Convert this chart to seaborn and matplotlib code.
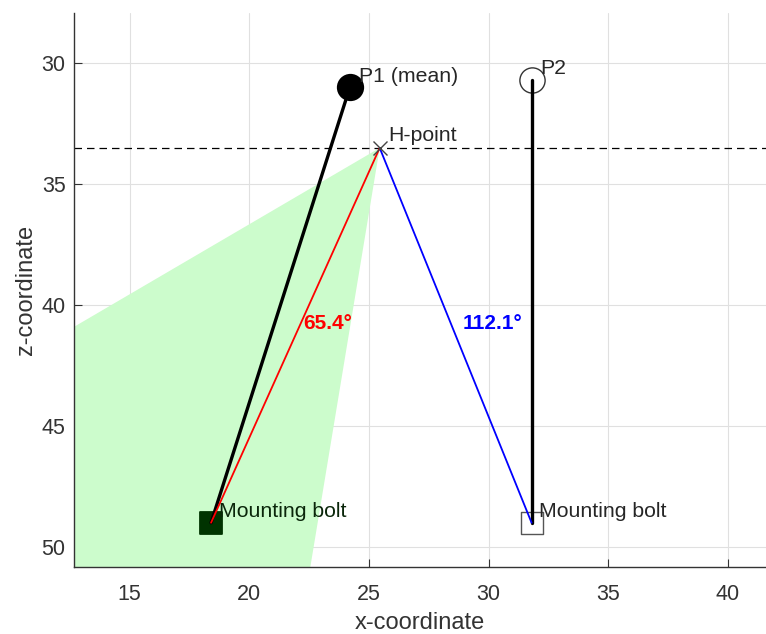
import matplotlib
matplotlib.use("Agg")
import matplotlib.pyplot as plt
import seaborn as sns
import pandas as pd

# ---- data ----
hpoint = (25.45, 33.5)
p1 = (24.2, 31.0)
p2 = (31.8, 30.7)
bolt1 = (18.4, 49.0)
bolt2 = (31.8, 49.0)
angle1 = "65.4°"
angle2 = "112.1°"
wedge_left = (12.67, 40.9)
wedge_bottom = (22.55, 50.83)
xlim = (12.67, 41.6)
ylim = (50.83, 27.92)
xticks = [15, 20, 25, 30, 35, 40]
yticks = [30, 35, 40, 45, 50]

sns.set_style("white")
plt.rcParams['font.family'] = ['Liberation Sans', 'DejaVu Sans']

fig = plt.figure(figsize=(7.66, 6.34), dpi=100)
ax = fig.add_axes([0.0966, 0.1057, 0.9034, 0.8738])

# green wedge (feasible region), extended beyond axes and clipped
def extend(a, b, f=3.0):
    return (a[0] + (b[0] - a[0]) * f, a[1] + (b[1] - a[1]) * f)
wl = extend(hpoint, wedge_left)
wb = extend(hpoint, wedge_bottom)
ax.fill([hpoint[0], wl[0], wl[0], wb[0]], [hpoint[1], wl[1], wb[1], wb[1]],
        color='#ccfccc', lw=0, zorder=1)

# dashed horizontal reference through H-point
ax.axhline(hpoint[1], color='black', ls=(0, (6, 4)), lw=0.9, zorder=2)

seg = pd.DataFrame({
    'x': [hpoint[0], bolt1[0], hpoint[0], bolt2[0], p1[0], bolt1[0], p2[0], bolt2[0]],
    'z': [hpoint[1], bolt1[1], hpoint[1], bolt2[1], p1[1], bolt1[1], p2[1], bolt2[1]],
    'seg': ['red', 'red', 'blue', 'blue', 'p1', 'p1', 'p2', 'p2'],
})

# markers for bolts
sns.scatterplot(x=[bolt1[0]], y=[bolt1[1]], marker='s', s=260, color='#003300',
                edgecolor='#003300', ax=ax, zorder=3)
sns.scatterplot(x=[bolt2[0]], y=[bolt2[1]], marker='s', s=260, color='white',
                edgecolor='#555555', linewidth=1.0, ax=ax, zorder=3)

sns.lineplot(data=seg[seg.seg == 'p1'], x='x', y='z', sort=False, color='black',
             lw=2.4, ax=ax, zorder=4, estimator=None)
sns.lineplot(data=seg[seg.seg == 'p2'], x='x', y='z', sort=False, color='black',
             lw=2.4, ax=ax, zorder=4, estimator=None)
sns.lineplot(data=seg[seg.seg == 'red'], x='x', y='z', sort=False, color='red',
             lw=1.3, ax=ax, zorder=5, estimator=None)
sns.lineplot(data=seg[seg.seg == 'blue'], x='x', y='z', sort=False, color='blue',
             lw=1.3, ax=ax, zorder=5, estimator=None)

# P markers
sns.scatterplot(x=[p1[0]], y=[p1[1]], marker='o', s=330, color='black',
                edgecolor='black', ax=ax, zorder=6)
sns.scatterplot(x=[p2[0]], y=[p2[1]], marker='o', s=330, color='white',
                edgecolor='#333333', linewidth=1.0, ax=ax, zorder=3)
ax.plot([hpoint[0]], [hpoint[1]], marker='x', ms=10, mew=1.0, color='#444444', zorder=6)

# labels
fs = 15.3
ax.text(24.58, 30.55, "P1 (mean)", fontsize=fs, va='center', ha='left', zorder=7)
ax.text(32.15, 30.2, "P2", fontsize=fs, va='center', ha='left', zorder=7)
ax.text(25.8, 32.98, "H-point", fontsize=fs, va='center', ha='left', zorder=7)
ax.text(18.72, 48.55, "Mounting bolt", fontsize=fs, va='center', ha='left',
        color='#0a260a', zorder=7)
ax.text(32.12, 48.55, "Mounting bolt", fontsize=fs, va='center', ha='left', zorder=7)
ax.text(22.25, 40.75, angle1, fontsize=15, fontweight='bold', color='red',
        va='center', ha='left', zorder=7)
ax.text(28.9, 40.75, angle2, fontsize=15, fontweight='bold', color='blue',
        va='center', ha='left', zorder=7)

ax.set_xlim(*xlim)
ax.set_ylim(*ylim)
ax.set_xticks(xticks)
ax.set_yticks(yticks)
ax.grid(True, color='#e0e0e0', lw=0.8, zorder=0)
ax.set_axisbelow(True)
for s in ['top', 'right']:
    ax.spines[s].set_visible(False)
for s in ['left', 'bottom']:
    ax.spines[s].set_color('#333333')
    ax.spines[s].set_linewidth(1.0)
ax.tick_params(direction='in', length=6, width=0.8, colors='#333333',
               labelsize=15.5, labelcolor='#333333', left=True, bottom=True)
ax.tick_params(axis='x', pad=12)
ax.tick_params(axis='y', pad=6)
ax.set_xlabel("x-coordinate", fontsize=17, color='#333333', labelpad=5)
ax.set_ylabel("z-coordinate", fontsize=17, color='#333333', labelpad=3)

fig.savefig("out.png", dpi=100)
